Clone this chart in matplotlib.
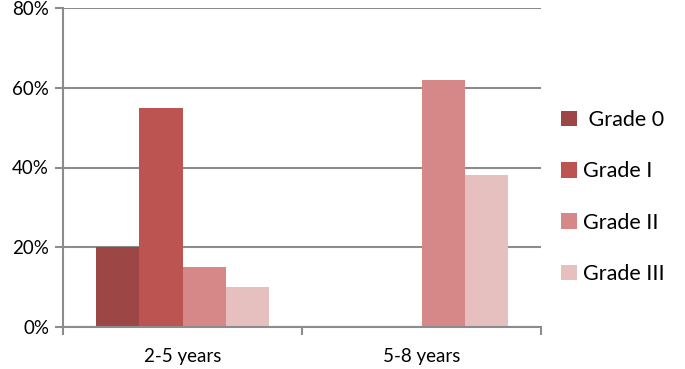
import matplotlib
matplotlib.use("Agg")
import matplotlib.pyplot as plt
import numpy as np

categories = ["2-5 years", "5-8 years"]
series = [" Grade 0", "Grade I", "Grade II", "Grade III"]
values = {
    " Grade 0": [20, 0],
    "Grade I": [55, 0],
    "Grade II": [15, 62],
    "Grade III": [10, 38],
}
colors = ["#9C4646", "#BC5451", "#D68787", "#E6BFBF"]
yticks = [0, 20, 40, 60, 80]

plt.rcParams['font.family'] = ['Lato', 'DejaVu Sans']

fig = plt.figure(figsize=(6.85, 3.69), dpi=100)
ax = fig.add_axes([63/685, 1-327/369, (541-63)/685, (327-8)/369])

x = np.arange(len(categories))
bw = 0.182
for i, (s, c) in enumerate(zip(series, colors)):
    v = np.array(values[s], dtype=float)
    offs = (i - 1.5) * bw
    mask = v > 0
    ax.bar(x[mask] + offs, v[mask], width=bw, color=c, label=s, linewidth=0)

ax.set_xlim(-0.5, 1.5)
ax.set_ylim(0, 80)
ax.set_yticks(yticks)
ax.set_yticklabels([f"{t}%" for t in yticks], fontsize=13.5)
ax.yaxis.grid(True, color="#8c8c8c", linewidth=1.5)
ax.set_axisbelow(True)
ax.tick_params(axis='y', length=6, width=1.5, color="#8c8c8c", pad=4)

ax.set_xticks(x)
ax.set_xticklabels(categories, fontsize=13.5)
ax.set_xticks([-0.5, 0.5, 1.5], minor=True)
ax.tick_params(axis='x', which='major', length=0, pad=15)
ax.tick_params(axis='x', which='minor', length=6, width=1.5, color="#8c8c8c")

for side in ["top", "right"]:
    ax.spines[side].set_visible(False)
for side in ["left", "bottom"]:
    ax.spines[side].set_color("#8c8c8c")
    ax.spines[side].set_linewidth(1.5)

fig.legend(loc="center left", bbox_to_anchor=(561/685, 1-197/369), frameon=False,
           fontsize=15.5, handlelength=0.72, handleheight=0.72, labelspacing=1.45,
           handletextpad=0.3, borderpad=0, borderaxespad=0)

fig.savefig("out.png", dpi=100)
